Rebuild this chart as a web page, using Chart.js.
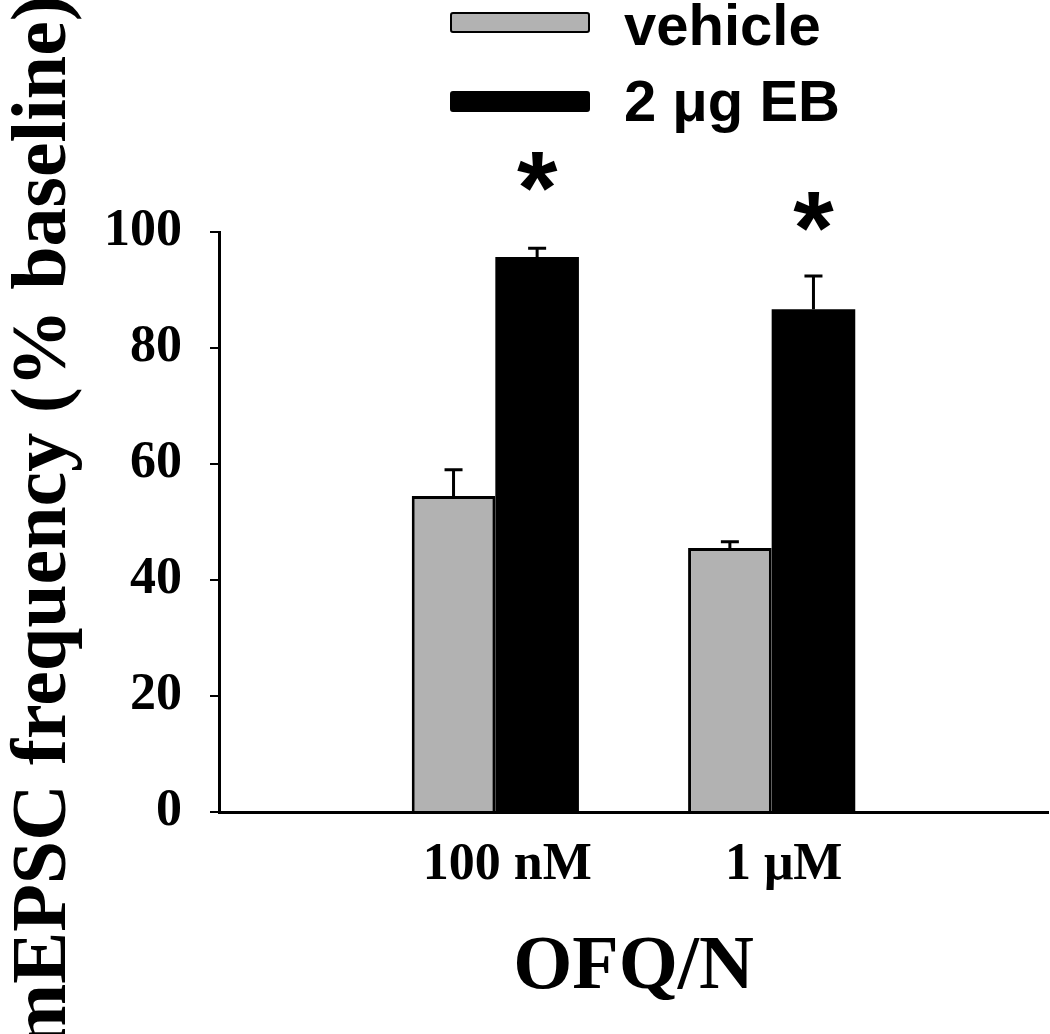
<!DOCTYPE html>
<html>
<head>
<meta charset="utf-8">
<script src="https://cdn.jsdelivr.net/npm/chart.js@4.4.0/dist/chart.umd.min.js"></script>
<style>
  html, body { margin: 0; padding: 0; background: #fff; }
  #wrap { width: 1050px; height: 1034px; }
</style>
</head>
<body>
<div id="wrap"><canvas id="chart" width="1050" height="1034"></canvas></div>
<script>
// Data
const categories = ['100 nM', '1 \u03bcM'];
const vehicleMean = [54.5, 45.5];
const vehicleErr = [4.5, 1.1];
const ebMean = [95.7, 86.7];
const ebErr = [1.5, 5.7];
// asterisk positions (axis units) above the EB bars
const sigPos = [109.7, 102.8];
const yTicks = [0, 20, 40, 60, 80, 100];

const GREY = '#b2b2b2';
const serif = "'Liberation Serif', 'Times New Roman', serif";
const sans = "'Liberation Sans', Arial, sans-serif";

// pad with empty slots so the two groups sit at 1/3 and 2/3 of the axis
const labels = ['', ...categories, ''];
const pad = arr => [null, ...arr, null];

// error bars + asterisks
const errorBars = {
    id: 'errorBars',
    afterDatasetsDraw(chart) {
        const ctx = chart.ctx;
        const y = chart.scales.y;
        const errs = [vehicleErr, ebErr];
        const means = [vehicleMean, ebMean];
        ctx.save();
        ctx.strokeStyle = '#000';
        ctx.lineWidth = 3;
        errs.forEach((err, d) => {
            const meta = chart.getDatasetMeta(d);
            err.forEach((e, i) => {
                const bar = meta.data[i + 1];
                const top = y.getPixelForValue(means[d][i] + e);
                ctx.beginPath();
                ctx.moveTo(bar.x, bar.y);
                ctx.lineTo(bar.x, top);
                ctx.moveTo(bar.x - 9, top);
                ctx.lineTo(bar.x + 9, top);
                ctx.stroke();
            });
        });
        // significance stars over the EB bars
        const ebMeta = chart.getDatasetMeta(1);
        ctx.fillStyle = '#000';
        ctx.font = 'bold 104px ' + sans;
        ctx.textAlign = 'center';
        ctx.textBaseline = 'alphabetic';
        sigPos.forEach((v, i) => {
            const bar = ebMeta.data[i + 1];
            ctx.fillText('*', bar.x, y.getPixelForValue(v) + 48);
        });
        ctx.restore();
    }
};

// legend in the top area, drawn by hand to match the figure
const legendBoxes = {
    id: 'legendBoxes',
    afterDraw(chart) {
        const ctx = chart.ctx;
        const items = [
            { text: 'vehicle', fill: GREY, y: 13, base: 45 },
            { text: '2 \u03bcg EB', fill: '#000', y: 92, base: 121 }
        ];
        ctx.save();
        items.forEach(it => {
            ctx.fillStyle = it.fill;
            ctx.strokeStyle = '#000';
            ctx.lineWidth = 2;
            ctx.beginPath();
            ctx.roundRect(451, it.y, 138, 19, 2);
            ctx.fill();
            ctx.stroke();
            ctx.fillStyle = '#000';
            ctx.font = 'bold 58px ' + sans;
            ctx.textAlign = 'left';
            ctx.textBaseline = 'alphabetic';
            ctx.fillText(it.text, 624, it.base);
        });
        ctx.restore();
    }
};

new Chart(document.getElementById('chart'), {
    type: 'bar',
    data: {
        labels: labels,
        datasets: [
            {
                label: 'vehicle',
                data: pad(vehicleMean),
                backgroundColor: GREY,
                borderColor: '#000',
                borderWidth: 3,
                borderSkipped: 'bottom'
            },
            {
                label: '2 \u03bcg EB',
                data: pad(ebMean),
                backgroundColor: '#000',
                borderWidth: 0
            }
        ]
    },
    options: {
        responsive: false,
        animation: false,
        devicePixelRatio: 1,
        layout: { padding: { top: 232, right: 2, bottom: 0, left: 0 } },
        categoryPercentage: 0.605,
        barPercentage: 1.0,
        plugins: {
            legend: { display: false },
            tooltip: { enabled: false }
        },
        scales: {
            x: {
                offset: false,
                grid: { display: false, drawTicks: false },
                border: { display: true, color: '#000', width: 3 },
                ticks: {
                    color: '#000',
                    padding: 22,
                    labelOffset: 12,
                    maxRotation: 0,
                    autoSkip: false,
                    font: { family: serif, size: 52, weight: 'bold' }
                },
                title: {
                    display: true,
                    text: 'OFQ/N',
                    color: '#000',
                    font: { family: serif, size: 76, weight: 'bold', lineHeight: 1 },
                    padding: { top: 0, bottom: 28 }
                },
                afterFit(scale) {
                    scale.height = 222;
                    scale.paddingLeft = 0;
                    scale.paddingRight = 0;
                }
            },
            y: {
                min: 0,
                max: 100,
                afterBuildTicks(scale) { scale.ticks = yTicks.map(v => ({ value: v })); },
                grid: {
                    drawOnChartArea: false,
                    drawTicks: true,
                    tickLength: 9,
                    color: '#000',
                    lineWidth: 2
                },
                border: { display: true, color: '#000', width: 3 },
                ticks: {
                    color: '#000',
                    padding: 28,
                    font: { family: serif, size: 52, weight: 'bold' }
                },
                title: {
                    display: true,
                    text: 'mEPSC frequency (% baseline)',
                    color: '#000',
                    font: { family: serif, size: 78, weight: 'bold', lineHeight: 1 },
                    padding: { top: 6, bottom: 0 }
                },
                afterFit(scale) {
                    scale.width = 219;
                    scale.paddingTop = 0;
                    scale.paddingBottom = 0;
                }
            }
        }
    },
    plugins: [errorBars, legendBoxes]
});
</script>
</body>
</html>
